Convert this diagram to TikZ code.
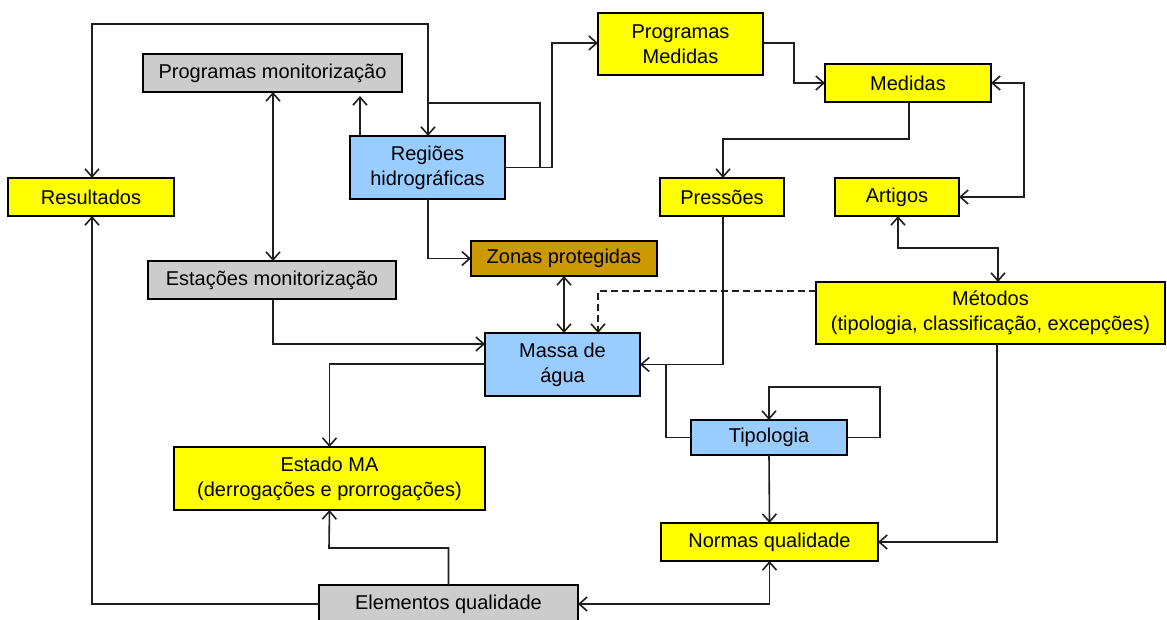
\documentclass[tikz,border=0pt]{standalone}
\usepackage{fontspec}
\setmainfont{Liberation Sans}
\usetikzlibrary{arrows.meta}
\definecolor{boxyellow}{HTML}{FFFF00}
\definecolor{boxgrey}{HTML}{CCCCCC}
\definecolor{boxblue}{HTML}{99CCFF}
\definecolor{boxgold}{HTML}{CC9900}
\begin{document}
\begin{tikzpicture}[x=1pt,y=-1pt,
  font=\fontsize{20}{25}\selectfont,
  >={Straight Barb[length=8pt,width=14pt]},
  box/.style={draw=black,line width=1.7pt,inner sep=0pt,outer sep=0pt,align=center},
  ybox/.style={box,fill=boxyellow},
  gbox/.style={box,fill=boxgrey},
  bbox/.style={box,fill=boxblue},
  obox/.style={box,fill=boxgold},
  link/.style={line width=1.6pt,draw=black!88},
  arr/.style={link,->},
  dbl/.style={link,<->},
  dsh/.style={link,->,dash pattern=on 7pt off 4pt}]
\useasboundingbox (0,0) rectangle (1167,620);

% boxes: centre, width, height in pixels
\node[ybox,minimum width=166pt,minimum height=38pt] (resultados) at (91,197) {Resultados};
\node[gbox,minimum width=259pt,minimum height=38pt] (progmon) at (272.5,73) {Programas monitorização};
\node[bbox,minimum width=155pt,minimum height=63pt] (regioes) at (427.5,167.5) {Regiões\\hidrográficas};
\node[ybox,minimum width=165pt,minimum height=62pt] (progmed) at (680.5,44) {Programas\\Medidas};
\node[ybox,minimum width=166pt,minimum height=38pt] (medidas) at (908,83) {Medidas};
\node[ybox,minimum width=124pt,minimum height=38pt] (pressoes) at (722,197) {Pressões};
\node[ybox,minimum width=124pt,minimum height=38pt] (artigos) at (897,197) {Artigos};
\node[obox,minimum width=186pt,minimum height=35pt] (zonas) at (564,258.5) {Zonas protegidas};
\node[gbox,minimum width=248pt,minimum height=38pt] (estacoes) at (272,280) {Estações monitorização};
\node[ybox,minimum width=349pt,minimum height=62pt] (metodos) at (990.5,313) {Métodos\\(tipologia, classificação, excepções)};
\node[bbox,minimum width=155pt,minimum height=63pt] (massa) at (562.5,364.5) {Massa de\\água};
\node[bbox,minimum width=156pt,minimum height=35pt] (tipologia) at (769,437.5) {Tipologia};
\node[ybox,minimum width=311pt,minimum height=63pt] (estado) at (329.5,478.5) {Estado MA\\(derrogações e prorrogações)};
\node[ybox,minimum width=217pt,minimum height=38pt] (normas) at (769.5,542) {Normas qualidade};
\node[gbox,minimum width=259pt,minimum height=38pt] (elementos) at (448.5,604) {Elementos qualidade};

% connectors
\draw[dbl] (resultados.north -| 92,0) |- (428,24) -- (regioes.north -| 428,0);
\draw[link] (regioes.east) -| (540,103) -- (428,103);
\draw[arr] (regioes.east) -| (552,43) -- (progmed.west |- 0,43);
\draw[arr,shorten >=4pt] (regioes.north -| 360,0) -- (progmon.south -| 360,0);
\draw[dbl] (progmon.south -| 273,0) -- (estacoes.north -| 273,0);
\draw[arr] (regioes.south -| 428,0) |- (zonas.west);
\draw[arr] (progmed.east |- 0,43) -| (794,83) -- (medidas.west);
\draw[arr] (medidas.south -| 909,0) |- (723,139) -- (pressoes.north -| 723,0);
\draw[dbl] (medidas.east) -| (1024,197) -- (artigos.east);
\draw[dbl] (artigos.south -| 898,0) |- (998,248) -- (metodos.north -| 998,0);
\draw[dsh] (metodos.west |- 0,291) -| (massa.north -| 598,0);
\draw[dbl] (zonas.south) -- (massa.north -| zonas.south);
\draw[arr] (pressoes.south -| 723,0) |- (massa.east);
\draw[link] (666,364) |- (tipologia.west);
\draw[arr] (tipologia.east) -| (880,387) -| (tipologia.north);
\draw[arr] (estacoes.south -| 273,0) |- (massa.west |- 0,344);
\draw[arr] (massa.west |- 0,364) -| (estado.north);
\draw[arr] (metodos.south -| 997,0) |- (normas.east);
\draw[arr] (tipologia.south) -- (normas.north);
\draw[dbl] (normas.south) |- (elementos.east);
\draw[arr] (elementos.north) |- (329,548) -- (estado.south);
\draw[arr] (elementos.west) -| (resultados.south -| 92,0);
\end{tikzpicture}
\end{document}
